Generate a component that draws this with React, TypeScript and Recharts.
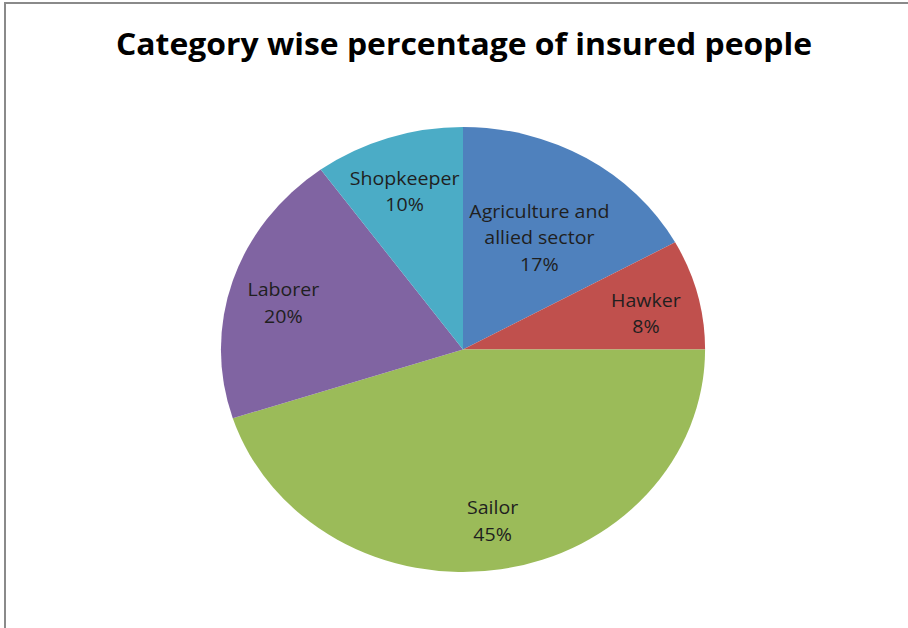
import React from "react";
import { PieChart, Pie, Cell } from "recharts";

const categories = ["Agriculture and allied sector", "Hawker", "Sailor", "Laborer", "Shopkeeper"];
const shares = [17, 8, 45, 20, 10];
const labelLines = [["Agriculture and", "allied sector"], ["Hawker"], ["Sailor"], ["Laborer"], ["Shopkeeper"]];
const colors = ["#4F81BD", "#C0504D", "#9BBB59", "#8064A2", "#4BACC6"];

const data = categories.map((name, i) => ({ name, value: shares[i], lines: labelLines[i] }));

const W = 908;
const H = 628;
const CX = 463;
const CY = 349.5;
const R = 222.5;
const SX = 1.088; // the source picture was stretched sideways
const LINE_H = 26.5;
const RAD = Math.PI / 180;

const renderLabel = (props: any) => {
  const { cx, cy, midAngle, outerRadius, index, value } = props;
  const lines: string[] = [...data[index].lines, `${value}%`];
  const frac = 0.78 - (lines.length - 2) * 0.16;
  const r = outerRadius * frac;
  const sin = Math.sin(-midAngle * RAD);
  const x = cx + r * Math.cos(-midAngle * RAD);
  // labels in the upper half sit a little lower, like Excel's best fit
  const y = cy + r * sin + (sin < 0 ? 7 : 0);
  const top = y - ((lines.length - 1) * LINE_H) / 2;
  return (
    <text
      x={x}
      y={top}
      textAnchor="middle"
      dominantBaseline="central"
      fontFamily="'Open Sans', sans-serif"
      fontSize={18}
      fill="#1f1f1f"
    >
      {lines.map((t, i) => (
        <tspan key={i} x={x} y={top + i * LINE_H}>
          {t}
        </tspan>
      ))}
    </text>
  );
};

export default function App() {
  return (
    <div style={{ position: "absolute", left: 0, top: 0, width: W, height: H, background: "#fff", overflow: "hidden" }}>
      <div
        style={{
          position: "absolute",
          left: 4,
          top: 2,
          width: W,
          height: H,
          borderTop: "2px solid #8a8a8a",
          borderLeft: "2px solid #8a8a8a",
        }}
      />
      <svg width={W} height={80} style={{ position: "absolute", left: 0, top: 0 }}>
        <text
          x={464}
          y={55}
          textAnchor="middle"
          fontFamily="'Open Sans', sans-serif"
          fontWeight={700}
          fontSize={31}
          textLength={696}
          lengthAdjust="spacingAndGlyphs"
          fill="#000"
        >
          Category wise percentage of insured people
        </text>
      </svg>
      <div
        style={{
          position: "absolute",
          left: 0,
          top: 0,
          width: W,
          height: H,
          transform: `scaleX(${SX})`,
          transformOrigin: `${CX}px ${CY}px`,
        }}
      >
        <PieChart width={W} height={H} margin={{ top: 0, right: 0, bottom: 0, left: 0 }}>
          <Pie
            data={data}
            dataKey="value"
            nameKey="name"
            cx={CX}
            cy={CY}
            outerRadius={R}
            startAngle={90}
            endAngle={-270}
            stroke="none"
            label={renderLabel}
            labelLine={false}
            isAnimationActive={false}
          >
            {data.map((d, i) => (
              <Cell key={d.name} fill={colors[i]} />
            ))}
          </Pie>
        </PieChart>
      </div>
    </div>
  );
}
